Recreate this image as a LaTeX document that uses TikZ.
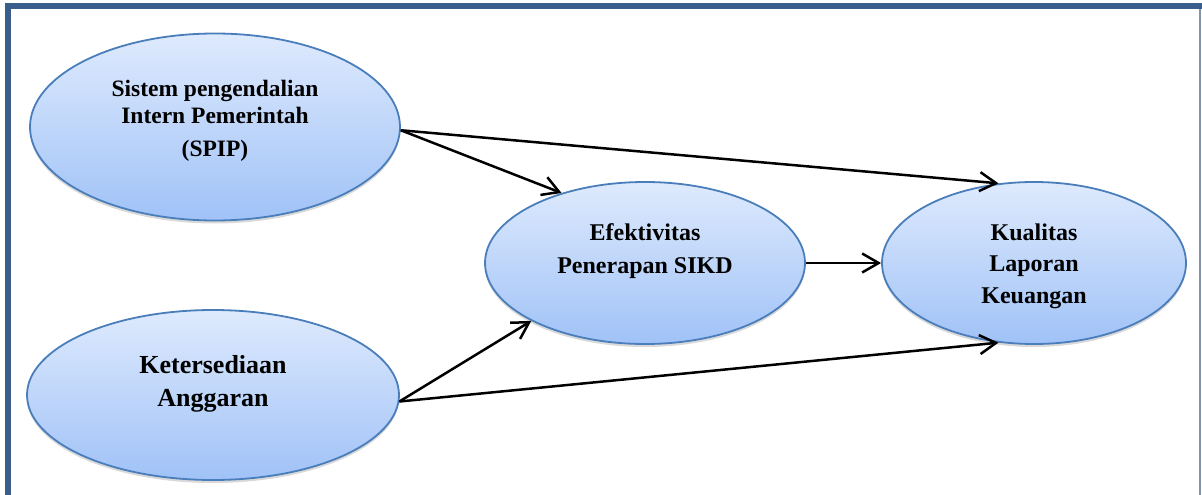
\documentclass[tikz,border=0pt]{standalone}
\usepackage{fontspec}
\setmainfont{Liberation Serif}
\usetikzlibrary{arrows.meta,shapes.geometric,shadows}
\definecolor{framedark}{RGB}{58,94,140}
\definecolor{frameside}{RGB}{128,148,174}
\definecolor{ovaltop}{RGB}{222,234,253}
\definecolor{ovalbot}{RGB}{160,194,247}
\definecolor{ovalline}{RGB}{74,126,187}
\newcommand{\bfsize}[2]{\bfseries\fontsize{#1}{#2}\selectfont}

\begin{document}
\begin{tikzpicture}[x=1pt,y=-1pt,
    oval/.style={ellipse,draw=ovalline,line width=1.8pt,top color=ovaltop,bottom color=ovalbot,inner sep=0pt,
      drop shadow={shadow xshift=0pt,shadow yshift=-3pt,opacity=.3}},
    txt/.style={align=center,inner sep=0pt},
    link/.style={line width=2.5pt,-{Straight Barb[angle=60:19pt]}},
    ]
  \useasboundingbox (0,0) rectangle (1202,495);
  \draw[frameside,line width=1.5pt] (1200,7) -- (1200,495);
  \draw[framedark,line width=6pt] (8,495) -- (8,6.5) -- (1202,6.5);

  \node[oval,minimum width=370pt,minimum height=187pt] (spip) at (215,127) {};
  \node[oval,minimum width=372pt,minimum height=170pt] (keter) at (213,395) {};
  \node[oval,minimum width=320pt,minimum height=162pt] (efek) at (645,263) {};
  \node[oval,minimum width=304pt,minimum height=162pt] (kual) at (1034,263) {};

  \node[txt,font=\bfsize{23.5}{27}] (spip-t) at (215,120.5) {Sistem pengendalian\\Intern Pemerintah\\[6pt](SPIP)};
  \node[txt,font=\bfsize{26}{33}] (keter-t) at (213,384) {Ketersediaan\\Anggaran};
  \node[txt,font=\bfsize{24}{33}] (efek-t) at (645,251.5) {Efektivitas\\Penerapan SIKD};
  \node[txt,font=\bfsize{24}{31.5}] (kual-t) at (1034,266) {Kualitas\\Laporan\\Keuangan};

  \draw[link] (spip.-1) -- (efek.140);
  \draw[link] (spip.-1) -- (kual.114);
  \draw[link] (efek.east) -- (kual.west);
  \draw[link] (keter.-2) -- (efek.207);
  \draw[link] (keter.-2) -- (kual.246);
\end{tikzpicture}
\end{document}
